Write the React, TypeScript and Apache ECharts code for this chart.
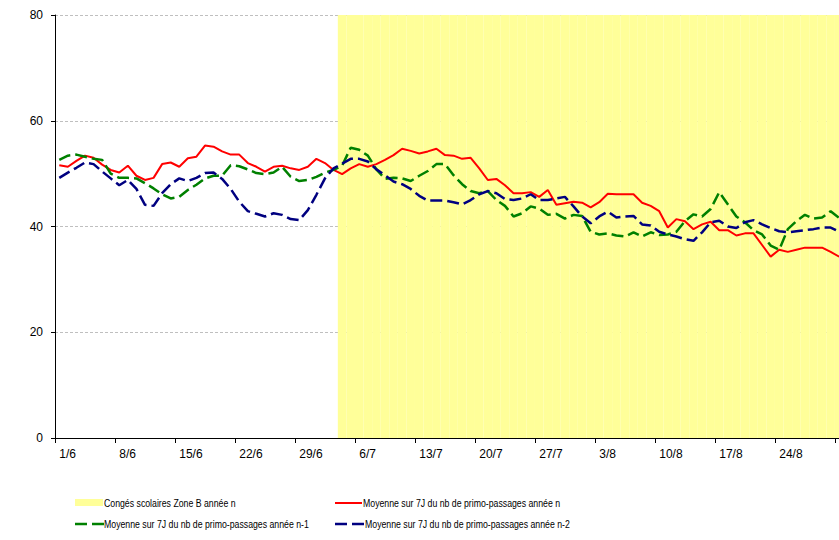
import React, { useEffect, useRef } from "react";
import * as echarts from "echarts";

// Categories: days from 1/6 to 31/8
const monthDays: [number, number][] = [
  [6, 30],
  [7, 31],
  [8, 31],
];
const days: string[] = [];
monthDays.forEach(([m, n]) => {
  for (let d = 1; d <= n; d++) days.push(`${d}/${m}`);
});

const holidayStart = "4/7";
const holidayTop = 80;
const lastLabel = "24/8";

const serieN: number[] = [
  51.6, 51.3, 52.4, 53.4, 53.0, 51.7, 50.7, 50.2, 51.5, 49.6, 48.8, 49.2, 51.8, 52.1, 51.3, 52.9, 53.2, 55.3, 55.1,
  54.2, 53.6, 53.6, 52.0, 51.3, 50.4, 51.3, 51.5, 51.0, 50.7, 51.3, 52.8, 52.0, 50.7, 49.9, 51.0, 51.8, 51.3,
  51.8, 52.6, 53.5, 54.7, 54.3, 53.8, 54.2, 54.7, 53.5, 53.4, 52.8, 53.0, 51.0, 48.8, 49.0, 47.8, 46.3, 46.3, 46.5,
  45.6, 46.9, 44.1, 44.4, 44.7, 44.5, 43.6, 44.6, 46.2, 46.1, 46.1, 46.1, 44.5, 43.9, 42.9, 39.8, 41.4, 41.0, 39.5,
  40.4, 40.9, 39.3, 39.3, 38.3, 38.7, 38.7, 36.5, 34.3, 35.6, 35.2, 35.6, 36.0, 36.0, 36.0, 35.2, 34.3,
];

const serieN1: number[] = [
  52.6, 53.4, 53.6, 53.2, 52.8, 52.6, 50.0, 49.2, 49.2, 49.1, 48.2, 47.2, 46.1, 45.3, 45.6, 46.9, 47.9, 49.1, 49.6,
  49.6, 51.6, 51.4, 50.8, 50.1, 49.9, 50.2, 51.3, 49.4, 48.6, 48.8, 49.4, 50.2, 50.7, 51.5, 54.9, 54.5, 53.4,
  50.8, 49.0, 49.2, 49.1, 48.6, 49.6, 50.5, 51.8, 51.8, 49.7, 48.0, 46.7, 46.3, 46.7, 45.0, 43.9, 41.9, 42.5, 43.8,
  43.4, 42.2, 42.4, 41.5, 42.2, 42.0, 39.0, 38.5, 38.7, 38.3, 38.1, 38.9, 38.1, 38.9, 38.4, 38.5, 39.0, 41.0, 42.3,
  41.9, 43.3, 46.5, 44.2, 41.9, 40.8, 39.3, 38.5, 36.4, 35.6, 39.5, 41.0, 42.2, 41.5, 41.7, 42.9, 41.6,
];

const serieN2: number[] = [
  49.2, 50.2, 51.1, 52.1, 51.8, 50.4, 49.1, 47.8, 48.8, 47.1, 44.1, 43.9, 46.3, 48.0, 49.1, 48.6, 49.2, 50.1, 50.2,
  49.0, 47.1, 44.7, 42.9, 42.4, 41.9, 42.5, 42.2, 41.4, 41.2, 43.1, 46.0, 49.1, 51.0, 51.9, 52.8, 52.8, 52.3,
  50.8, 49.7, 48.5, 48.0, 47.1, 45.8, 44.9, 44.9, 44.9, 44.6, 44.2, 45.0, 46.1, 46.7, 46.3, 45.2, 45.0, 45.3, 46.1,
  45.0, 45.0, 45.3, 45.6, 43.8, 41.9, 40.6, 41.9, 42.8, 41.7, 41.9, 42.0, 40.4, 40.2, 39.0, 38.5, 38.1, 37.6, 37.3,
  38.9, 40.8, 41.1, 40.0, 39.7, 40.8, 41.2, 40.4, 39.7, 39.1, 38.9, 39.1, 39.3, 39.5, 39.8, 39.8, 39.0,
];

const yTicks = { min: 0, max: 80, interval: 20 };

const nameHoliday = "Congés scolaires Zone B année n";
const nameN = "Moyenne sur 7J du nb de primo-passages année n";
const nameN1 = "Moyenne sur 7J du nb de primo-passages année n-1";
const nameN2 = "Moyenne sur 7J du nb de primo-passages année n-2";

const COLORS = { holiday: "#FFFF99", n: "#FF0000", n1: "#008000", n2: "#000080" };
const DASH = [12, 5];

export default function App() {
  const ref = useRef<HTMLDivElement>(null);
  useEffect(() => {
    if (!ref.current) return;
    const chart = echarts.init(ref.current, undefined, { renderer: "svg" });
    const startIdx = days.indexOf(holidayStart);
    const lastLabelIdx = days.indexOf(lastLabel);
    const holidayData = days.map((_, i) => (i >= startIdx ? holidayTop : "-"));

    const legendFont = "10px Arial, 'Liberation Sans', sans-serif";
    const sx = 0.875;
    const legendText = (text: string, x: number, y: number) => ({
      type: "text",
      x,
      y,
      scaleX: sx,
      silent: true,
      style: { text, font: legendFont, fill: "#000", textAlign: "left", textVerticalAlign: "middle" },
    });
    const dashedIcon = (x: number, y: number, color: string) => ({
      type: "line",
      silent: true,
      shape: { x1: x, y1: y, x2: x + 29, y2: y },
      style: { stroke: color, lineWidth: 2.5, lineDash: DASH },
    });

    chart.setOption({
      animation: false,
      backgroundColor: "#fff",
      grid: {
        left: 55,
        top: 15,
        bottom: 102,
        right: -4.5,
        containLabel: false,
        outerBoundsMode: "none",
      },
      xAxis: {
        type: "category",
        data: days,
        boundaryGap: true,
        axisLine: { show: true, lineStyle: { color: "#000", width: 1 } },
        axisTick: { show: true, interval: 6, length: 5, lineStyle: { color: "#000" } },
        axisLabel: {
          interval: (i: number) => i % 7 === 0 && i <= lastLabelIdx,
          align: "left",
          margin: 10,
          fontSize: 12,
          fontFamily: "Arial, 'Liberation Sans', sans-serif",
          color: "#000",
        },
        splitLine: { show: false },
      },
      yAxis: {
        type: "value",
        min: yTicks.min,
        max: yTicks.max,
        interval: yTicks.interval,
        axisLine: { show: true, lineStyle: { color: "#000", width: 1 } },
        axisTick: { show: true, length: 4, lineStyle: { color: "#000" } },
        axisLabel: {
          margin: 12,
          fontSize: 12,
          fontFamily: "Arial, 'Liberation Sans', sans-serif",
          color: "#000",
        },
        splitLine: { show: true, lineStyle: { color: "#BFBFBF", type: [3, 2], width: 1 } },
      },
      graphic: [
        {
          type: "rect",
          silent: true,
          shape: { x: 75, y: 499, width: 28, height: 7 },
          style: { fill: COLORS.holiday },
        },
        legendText(nameHoliday, 104, 503),
        {
          type: "line",
          silent: true,
          shape: { x1: 335, y1: 503, x2: 362, y2: 503 },
          style: { stroke: COLORS.n, lineWidth: 2 },
        },
        legendText(nameN, 363, 503),
        dashedIcon(75, 524, COLORS.n1),
        legendText(nameN1, 104, 524),
        dashedIcon(335, 524, COLORS.n2),
        legendText(nameN2, 365, 524),
      ],
      series: [
        {
          name: nameHoliday,
          type: "bar",
          data: holidayData,
          barWidth: "100%",
          barCategoryGap: "0%",
          itemStyle: { color: COLORS.holiday },
          silent: true,
        },
        {
          name: nameN,
          type: "line",
          data: serieN,
          symbol: "none",
          lineStyle: { color: COLORS.n, width: 2 },
          itemStyle: { color: COLORS.n },
        },
        {
          name: nameN1,
          type: "line",
          data: serieN1,
          symbol: "none",
          lineStyle: { color: COLORS.n1, width: 2.5, type: DASH },
          itemStyle: { color: COLORS.n1 },
        },
        {
          name: nameN2,
          type: "line",
          data: serieN2,
          symbol: "none",
          lineStyle: { color: COLORS.n2, width: 2.5, type: DASH },
          itemStyle: { color: COLORS.n2 },
        },
      ],
    });
    return () => chart.dispose();
  }, []);
  return (
    <div
      ref={ref}
      style={{ position: "fixed", left: 0, top: 0, width: 839, height: 540 }}
    />
  );
}
